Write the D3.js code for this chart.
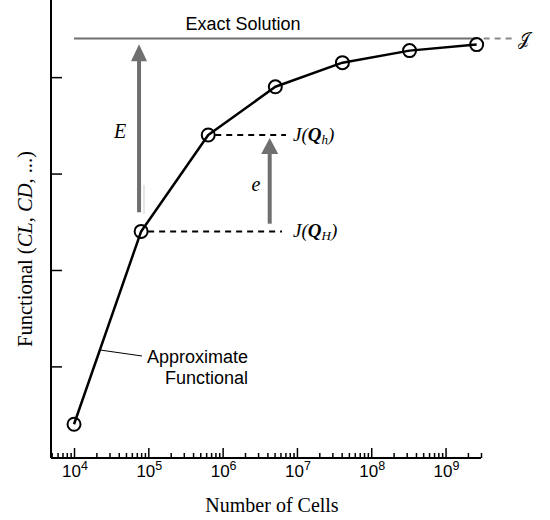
<!DOCTYPE html>
<html><head><meta charset="utf-8">
<script src="https://cdn.jsdelivr.net/npm/d3@7"></script>
<style>body{margin:0;background:#fff} svg{display:block}</style>
</head><body><svg id="chart" width="550" height="520"></svg>
<script>
// Grid refinement study: functional value vs number of cells
const cells = [1e4, 8e4, 6.4e5, 5.12e6, 4.096e7, 3.2768e8, 2.62144e9];
const functional = [0.4, 2.4, 3.4, 3.9, 4.15, 4.275, 4.3375];
const exactValue = 4.4;
const majorTicks = [1e4, 1e5, 1e6, 1e7, 1e8, 1e9];
const tickExponents = ["4", "5", "6", "7", "8", "9"];
const yTicks = [1, 2, 3, 4];
// error arrows: cell count where drawn, start and end functional values
const arrowBig = {n: 7.5e4, from: 2.6, to: 4.34, label: "E"};
const arrowSmall = {n: 4.3e6, from: 2.48, to: 3.37, label: "e"};

const svg = d3.select("#chart");
const x = d3.scaleLog().domain([4.9e3, 3e9]).range([51, 481]);
const y = d3.scaleLinear().domain([0.05, 4.8]).range([458, 0]);

const sans = "'Liberation Sans', Arial, Helvetica, sans-serif";
const serif = "'Liberation Serif', 'Times New Roman', Times, serif";

// minor log ticks
const minor = [];
for (let k = 3; k <= 9; k++) for (let m = 2; m <= 9; m++) {
  const v = m * Math.pow(10, k);
  if (v > x.domain()[0] && v <= x.domain()[1]) minor.push(v);
}

const gx = svg.append("g").attr("transform", "translate(0,458)");
gx.call(d3.axisBottom(x).tickValues(minor).tickSizeInner(-5).tickSizeOuter(0).tickFormat(""));
const gxMaj = svg.append("g").attr("transform", "translate(0,458)");
gxMaj.call(d3.axisBottom(x).tickValues(majorTicks).tickSizeInner(-10).tickSizeOuter(0).tickFormat(""));
gxMaj.select(".domain").remove();
gxMaj.selectAll(".tick text").remove();
gx.select(".domain").attr("d", `M${x.range()[0]},0H${x.range()[1]}`);
[gx, gxMaj].forEach(g => {
  g.selectAll("line").attr("stroke", "#000").attr("stroke-width", 1.5);
  g.select(".domain").attr("stroke", "#000").attr("stroke-width", 2);
});

// power-of-ten tick labels
const xl = svg.append("g").selectAll("text").data(majorTicks).enter().append("text")
  .attr("x", d => x(d) + 1).attr("y", 477).attr("text-anchor", "middle")
  .style("font-family", sans).style("font-size", "17px").attr("fill", "#000");
xl.append("tspan").text("10");
xl.append("tspan").style("font-size", "12.5px").attr("dy", -7).text((d, i) => tickExponents[i]);

const gy = svg.append("g").attr("transform", "translate(51,0)");
gy.call(d3.axisLeft(y).tickValues(yTicks).tickSizeInner(-11).tickSizeOuter(0).tickFormat(""));
gy.select(".domain").attr("d", "M0,0V458").attr("stroke", "#000").attr("stroke-width", 2);
gy.selectAll("line").attr("stroke", "#000").attr("stroke-width", 1.5);

// axis titles
svg.append("text").attr("x", 272).attr("y", 512).attr("text-anchor", "middle")
  .attr("font-family", serif).attr("font-size", 20).text("Number of Cells");
const yl = svg.append("text").attr("transform", "translate(32,249) rotate(-90)")
  .attr("text-anchor", "middle").attr("font-family", serif).attr("font-size", 20.5);
yl.append("tspan").text("Functional (");
yl.append("tspan").attr("font-style", "italic").text("CL");
yl.append("tspan").text(", ");
yl.append("tspan").attr("font-style", "italic").text("CD");
yl.append("tspan").text(", ...)");

const grey = "#6f6f6f";
const yEx = y(exactValue);
const xLast = x(cells[cells.length - 1]);

// exact solution line
svg.append("line").attr("x1", x(1e4)).attr("x2", xLast).attr("y1", yEx).attr("y2", yEx)
  .attr("stroke", grey).attr("stroke-width", 2);
svg.append("line").attr("x1", xLast + 7).attr("x2", xLast + 35).attr("y1", yEx).attr("y2", yEx)
  .attr("stroke", "#888").attr("stroke-width", 2).attr("stroke-dasharray", "6,5");
svg.append("text").attr("x", 518).attr("y", yEx + 6).attr("font-family", "'DejaVu Serif', serif")
  .attr("font-size", 17).text("𝒥");
svg.append("text").attr("x", 243).attr("y", 30).attr("text-anchor", "middle")
  .attr("font-family", sans).attr("font-size", 18).text("Exact Solution");

// faint shadow beside the big arrow
svg.append("line").attr("x1", 144).attr("x2", 144).attr("y1", 185).attr("y2", 214)
  .attr("stroke", "#e6e6e6").attr("stroke-width", 2);

// error arrows
function arrow(a, headW, headL) {
  const ax = x(a.n), y0 = y(a.from), y1 = y(a.to);
  svg.append("line").attr("x1", ax).attr("x2", ax).attr("y1", y0).attr("y2", y1 + headL - 1)
    .attr("stroke", grey).attr("stroke-width", 4);
  svg.append("path").attr("d", `M${ax},${y1}L${ax - headW / 2},${y1 + headL}L${ax + headW / 2},${y1 + headL}Z`)
    .attr("fill", grey);
}
arrow(arrowBig, 16, 17);
arrow(arrowSmall, 17, 16);
svg.append("text").attr("x", 120).attr("y", 138).attr("text-anchor", "middle")
  .attr("font-family", serif).attr("font-style", "italic").attr("font-size", 20).text(arrowBig.label);
svg.append("text").attr("x", 256).attr("y", 191).attr("text-anchor", "middle")
  .attr("font-family", serif).attr("font-style", "italic").attr("font-size", 20).text(arrowSmall.label);

// dashed levels for coarse and fine grids
function level(i, xEnd, sub) {
  const yy = y(functional[i]);
  svg.append("line").attr("x1", x(cells[i]) + 7).attr("x2", xEnd).attr("y1", yy).attr("y2", yy)
    .attr("stroke", "#000").attr("stroke-width", 2).attr("stroke-dasharray", "6,5");
  const t = svg.append("text").attr("x", 293).attr("y", yy + 6)
    .attr("font-family", serif).attr("font-style", "italic").attr("font-size", 19);
  t.append("tspan").text("J(");
  t.append("tspan").attr("font-weight", "bold").text("Q");
  t.append("tspan").attr("font-size", 13).attr("dy", 3).text(sub);
  t.append("tspan").attr("dy", -3).text(")");
}
level(1, 282, "H");
level(2, 286, "h");

// approximate functional curve
const line = d3.line().x((d, i) => x(cells[i])).y(d => y(d));
svg.append("path").datum(functional).attr("d", line)
  .attr("fill", "none").attr("stroke", "#000").attr("stroke-width", 2.5).attr("stroke-linejoin", "round");
svg.selectAll("circle.pt").data(functional).enter().append("circle")
  .attr("cx", (d, i) => x(cells[i])).attr("cy", d => y(d)).attr("r", 6.5)
  .attr("fill", "none").attr("stroke", "#000").attr("stroke-width", 2);

// leader to curve label
svg.append("line").attr("x1", 100).attr("y1", 350).attr("x2", 142).attr("y2", 356)
  .attr("stroke", "#000").attr("stroke-width", 1);
svg.append("text").attr("x", 248).attr("y", 363).attr("text-anchor", "end")
  .attr("font-family", sans).attr("font-size", 18).text("Approximate");
svg.append("text").attr("x", 248).attr("y", 384).attr("text-anchor", "end")
  .attr("font-family", sans).attr("font-size", 18).text("Functional");
</script></body></html>
